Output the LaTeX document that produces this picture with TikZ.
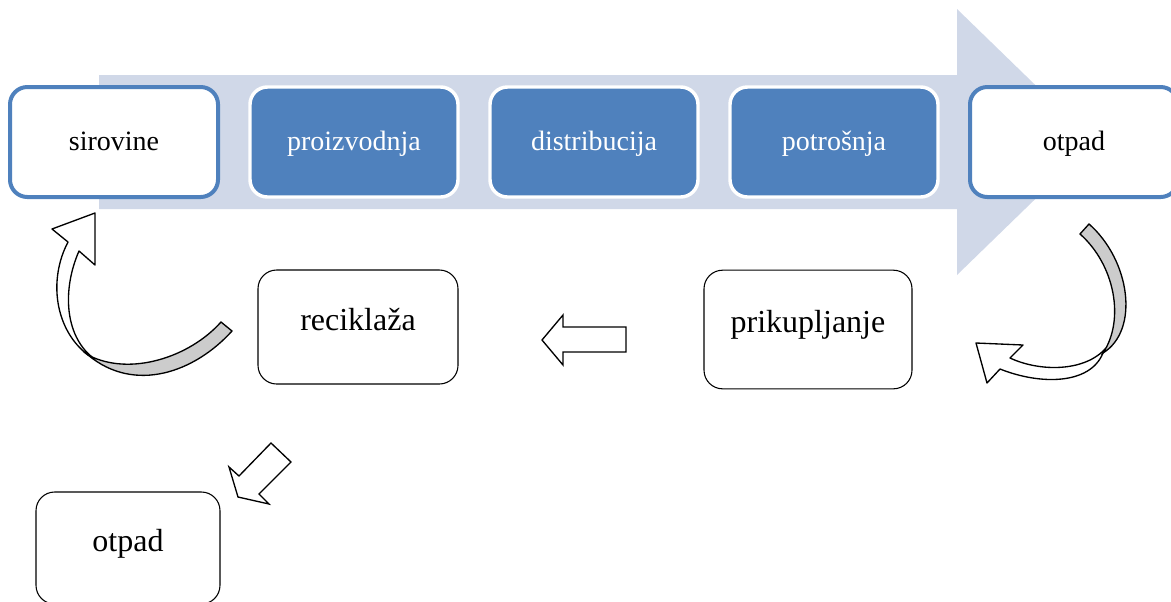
\documentclass[tikz,border=0pt]{standalone}
\usepackage{fontspec}
\setmainfont{Liberation Serif}
\definecolor{accent}{HTML}{4F81BD}
\definecolor{band}{HTML}{D0D8E8}
\begin{document}
\begin{tikzpicture}[x=0.75pt,y=-0.75pt,
  topfont/.style={font=\fontsize{21}{25}\selectfont, text height=17pt, text depth=5pt},
  lowfont/.style={font=\fontsize{24}{28}\selectfont, text height=7.5pt, text depth=2.5pt},
  topw/.style={topfont, draw=accent, line width=3pt, fill=white, rounded corners=13pt,
    minimum width=156pt, minimum height=82.5pt, text=black},
  topb/.style={topfont, draw=white, line width=2.6pt, fill=accent, rounded corners=13pt,
    minimum width=156pt, minimum height=82.5pt, text=white},
  lowbox/.style={lowfont, draw=black, line width=0.8pt, fill=white, rounded corners=14pt},
  blockarrow/.style={draw=black, line width=1pt, fill=white, line join=miter},
  twist/.style={draw=black, line width=1pt, fill=black!20, line join=miter}]
\useasboundingbox (0,0) rectangle (1171,601);
\clip (0,0) rectangle (1171,601);
% big background arrow
\fill[band] (99,75) -- (957,75) -- (957,9) -- (1094,142) -- (957,275) -- (957,209) -- (99,209) -- cycle;
% top row
\node[topw] (sir) at (114,142) {sirovine};
\node[topb] (pro) at (354,142) {proizvodnja};
\node[topb] (dis) at (594,142) {distribucija};
\node[topb] (pot) at (834,142) {potrošnja};
\node[topw] (otp) at (1074,142) {otpad};
% lower boxes
\node[lowbox, minimum width=150pt, minimum height=85.5pt] (rec) at (358,327) {reciklaža};
\node[lowbox, minimum width=156pt, minimum height=89pt] (pri) at (808,329.5) {prikupljanje};
\node[lowbox, minimum width=138pt, minimum height=84pt] (otp2) at (128,548) {otpad};
% straight block arrow (prikupljanje -> reciklaza)
\draw[blockarrow] (626,327) -- (563,327) -- (563,315) -- (542,340) -- (563,365) -- (563,352) -- (626,352) -- cycle;
% diagonal block arrow (reciklaza -> otpad)
\draw[blockarrow] (271,443) -- (291,462) -- (259,494) -- (269,504) -- (238,497) -- (229,467) -- (239,476) -- cycle;
% curved arrow left (reciklaza -> sirovine)
\draw[blockarrow, line join=round] (88,355) .. controls (55,330) and (48,280) .. (68,242) -- (52,229) -- (95,213) -- (95,265) -- (79,251)
  .. controls (62,290) and (65,335) .. (92,357) -- cycle;
\draw[twist] (221,322) -- (232,331) .. controls (195,372) and (135,394) .. (88,355)
  .. controls (130,377) and (190,357) .. (221,322) -- cycle;
% curved arrow right (otpad -> prikupljanje)
\draw[blockarrow, line join=round] (1103,353) .. controls (1090,385) and (1040,385) .. (1000,369) -- (987,383) -- (976,343) -- (1023,345) -- (1010,358)
  .. controls (1040,372) and (1085,372) .. (1106,348) -- cycle;
\draw[twist] (1080,234) -- (1089,224) .. controls (1130,260) and (1140,330) .. (1103,353)
  .. controls (1125,320) and (1115,265) .. (1080,234) -- cycle;
\end{tikzpicture}
\end{document}
